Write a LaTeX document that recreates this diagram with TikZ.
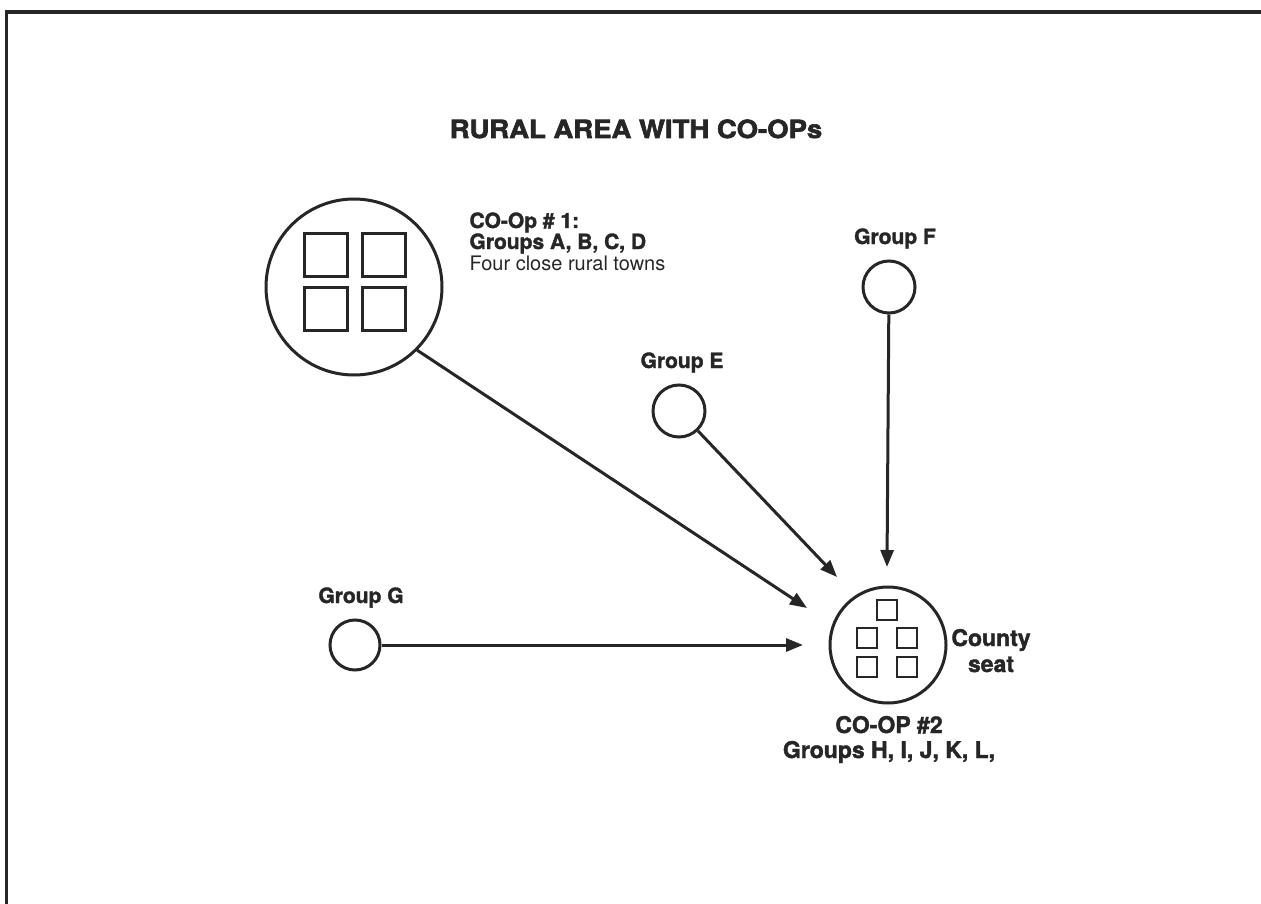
\documentclass[tikz,border=0pt]{standalone}
\usepackage{fontspec}
\setmainfont{TeX Gyre Heros}
\newfontfamily\titlefont{TeX Gyre Heros}[UprightFont=* Bold, FakeStretch=1.1, FakeBold=2.5]
\newfontfamily\lblfont{TeX Gyre Heros}[UprightFont=* Bold, FakeBold=1.6]
\usetikzlibrary{arrows.meta}
\definecolor{ink}{HTML}{262626}

\begin{document}
\begin{tikzpicture}[x=1pt, y=-1pt, line width=3pt, draw=ink,
    every node/.style={text=ink, inner sep=0pt},
    site/.style={circle, draw=ink, line width=3pt, minimum size=#1},
    lbl/.style={font=\lblfont\fontsize{21}{23}\selectfont},
    biglbl/.style={font=\lblfont\fontsize{23}{25}\selectfont},
    feed/.style={-{Triangle[length=17pt, width=13pt]}, line width=3pt}]
    \useasboundingbox (0,0) rectangle (1261,904);
    % Rahmen (nur oben und links)
    \draw[line width=4pt] (5,12) -- (1261,12);
    \draw[line width=3pt] (6,12) -- (6,904);
    % Titel
    \node[anchor=base, font=\titlefont\fontsize{25}{28}\selectfont] (title) at (636,138) {RURAL AREA WITH CO-OPs};
    % Kreise
    \node[site=176pt] (coopone) at (354,287) {};
    \node[site=116pt] (county) at (888,645) {};
    \node[site=52pt] (grpF) at (889,287) {};
    \node[site=52pt] (grpE) at (679,411) {};
    \node[site=50pt] (grpG) at (355,645) {};
    % Orte im Kreis CO-Op 1
    \foreach \cx/\cy in {325.5/255, 383.5/255, 325.5/308.5, 383.5/308.5}
        \draw (\cx-21.5,\cy-21.5) rectangle (\cx+21.5,\cy+21.5);
    % Orte im Kreis der Kreisstadt
    \foreach \cx/\cy in {887/610, 867/638, 907/638, 867/667, 907/667}
        \draw[line width=2.5pt] (\cx-10,\cy-10) rectangle (\cx+10,\cy+10);
    % Beschriftungen
    \node[lbl, anchor=base west] (coophead) at (468,228) {CO-Op \# 1:};
    \node[lbl, anchor=base west] (coopgrp) at (468,249) {Groups A, B, C, D};
    \node[anchor=base west, font=\fontsize{20}{22}\selectfont] (coopnote) at (468,270) {Four close rural towns};
    \node[lbl, anchor=base] (lblF) at (895,244) {Group F};
    \node[lbl, anchor=base] (lblE) at (682,368) {Group E};
    \node[lbl, anchor=base] (lblG) at (361,603) {Group G};
    \node[biglbl, anchor=base] (lblcounty) at (991,646) {County};
    \node[biglbl, anchor=base] (lblseat) at (991,672) {seat};
    \node[biglbl, anchor=base] (cooptwo) at (889,733) {CO-OP \#2};
    \node[biglbl, anchor=base] (cooptwogrp) at (889,758) {Groups H, I, J, K, L,};
    % Pfeilenden vor der Kreisstadt
    \coordinate (tipA) at (807,608);
    \coordinate (tipE) at (837,577);
    \coordinate (tipF) at (887,567);
    \coordinate (tipG) at (803,645);
    % Pfeile
    \draw[feed] (coopone.-45) -- (tipA);
    \draw[feed] (grpE) -- (tipE);
    \draw[feed] (grpF) -- (tipF);
    \draw[feed] (grpG) -- (tipG);
\end{tikzpicture}
\end{document}
